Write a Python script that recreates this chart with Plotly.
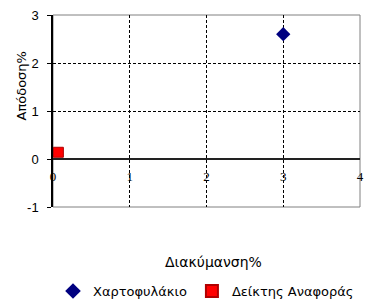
import plotly.graph_objects as go

series_names = ["Χαρτοφυλάκιο", "Δείκτης Αναφοράς"]
risk = [3.0, 0.07]        # Διακύμανση%
ret = [2.6, 0.14]         # Απόδοση%
x_ticks = [0, 1, 2, 3, 4]
y_ticks = [-1, 0, 1, 2, 3]
y_tick_text = ["-1", "0", "1", "2", "3"]

fig = go.Figure()
fig.add_trace(go.Scatter(x=[risk[0]], y=[ret[0]], mode="markers", name=series_names[0],
                         marker=dict(symbol="diamond", size=11, color="#000080",
                                     line=dict(color="#000080", width=0))))
fig.add_trace(go.Scatter(x=[risk[1]], y=[ret[1]], mode="markers", name=series_names[1],
                         marker=dict(symbol="square", size=10, color="#FF0000",
                                     line=dict(color="#B00000", width=1))))

fig.update_layout(
    width=372, height=301,
    margin=dict(l=53, r=12, t=15, b=94, autoexpand=False),
    paper_bgcolor="white", plot_bgcolor="white",
    font=dict(family="Liberation Sans, Arial", size=12, color="black"),
    xaxis=dict(range=[0, 4], tickvals=x_ticks, anchor="free", position=0.25,
               automargin=False,
               showgrid=True, gridcolor="black", griddash="3px,2px", gridwidth=1,
               showline=True, linecolor="#222222", linewidth=1.5,
               zeroline=False, ticks="", ticklen=0, ticklabelstandoff=6,
               tickfont=dict(family="Liberation Serif, Times New Roman", size=13, color="black")),
    yaxis=dict(range=[-1, 3], tickvals=y_ticks, ticktext=y_tick_text, automargin=False,
               showgrid=True, gridcolor="black", griddash="3px,2px", gridwidth=1,
               showline=True, linecolor="black", linewidth=1.5,
               zeroline=False, ticks="outside", ticklen=4, tickcolor="black",
               ticklabelstandoff=6,
               tickfont=dict(size=13)),
    shapes=[dict(type="rect", xref="paper", yref="paper", x0=0, y0=0, x1=1, y1=1,
                 line=dict(color="#808080", width=1), layer="below")],
    legend=dict(orientation="h", x=0.0, xanchor="left", y=-0.4375, yanchor="middle",
                font=dict(family="DejaVu Sans", size=13), itemwidth=30, itemsizing="constant",
                bgcolor="rgba(0,0,0,0)"),
    showlegend=True,
    annotations=[
        dict(text="Διακύμανση%", xref="paper", yref="paper", x=0.524, y=-0.286,
             xanchor="center", yanchor="middle", showarrow=False,
             font=dict(family="DejaVu Sans", size=14)),
        dict(text="Απόδοση%", xref="paper", yref="paper", x=-0.104, y=0.628,
             xanchor="center", yanchor="middle", textangle=-90, showarrow=False,
             font=dict(family="DejaVu Sans", size=13)),
    ],
)

fig.write_html("out.html", config={"displayModeBar": False},
               post_script="document.body.style.margin='0';document.body.style.overflow='hidden';")
